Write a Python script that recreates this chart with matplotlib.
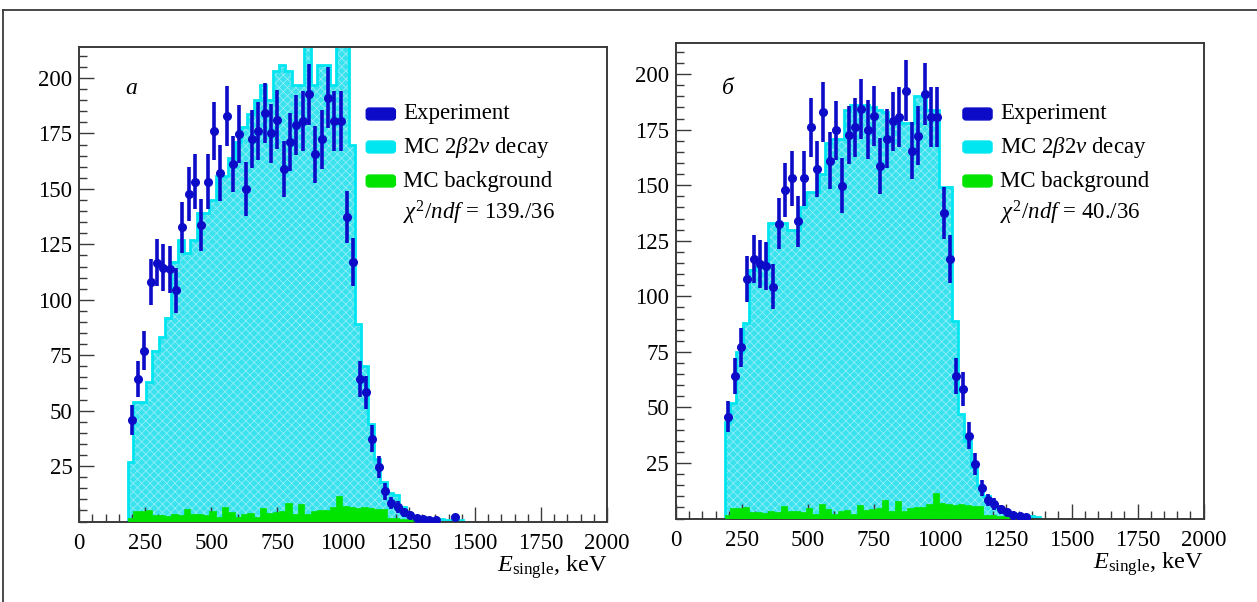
import numpy as np
import matplotlib
matplotlib.use('Agg')
import matplotlib.pyplot as plt
from matplotlib.patches import FancyBboxPatch
from matplotlib.lines import Line2D

plt.rcParams['font.family'] = ['Liberation Serif', 'DejaVu Serif']
plt.rcParams['mathtext.fontset'] = 'custom'
plt.rcParams['mathtext.rm'] = 'Liberation Serif'
plt.rcParams['mathtext.it'] = 'Liberation Serif:italic'
plt.rcParams['mathtext.bf'] = 'Liberation Serif:bold'
plt.rcParams['hatch.linewidth'] = 0.6

# ---- data ----
data_bin_start = 187.0   # keV, lower edge of first data bin
bin_width = 24.0         # keV
mc_first_edge = 186.0    # keV, MC histograms start
mc_second_edge = 205.0   # keV, then regular bins of bin_width

exp_counts = [45.9, 64.2, 77.0, 107.8, 116.8, 114.5, 113.7, 104.3, 132.7, 147.7,
              153.2, 133.7, 153.2, 176.1, 157.3, 182.8, 161.1, 174.7, 149.8, 172.5,
              176.1, 184.3, 175.0, 181.3, 158.8, 171.0, 178.8, 180.6, 192.6, 165.6,
              172.3, 191.1, 180.7, 180.7, 137.5, 116.9, 64.2, 58.2, 37.3, 24.4,
              13.6, 8.3, 6.5, 4.1, 2.8, 1.4, 1.0, 0.8, 0.6, 0.0, 0.0, 2.0]

mc_2b2n_a = [27, 54, 54, 63, 77, 83, 92, 117, 127, 121,
             127, 139, 139, 145, 156, 156, 164, 171, 178, 184,
             190, 197, 190, 203, 206, 203, 197, 197, 216, 197,
             206, 206, 197, 216, 216, 170, 89, 70, 44, 28,
             18, 13, 12, 6.5, 3.5, 2.5, 2.0, 1.5, 1.2, 1.0,
             0.8, 0.6, 0.5]

mc_2b2n_b = [43.5, 52, 75, 88, 112, 113, 113, 133, 133, 133,
             130, 130, 140, 147, 147, 155, 169, 171, 171, 184,
             186, 186, 186, 185, 184, 183, 180, 180, 178, 178,
             190, 190, 184, 184, 149, 149, 89, 47, 35, 23,
             15, 10, 7, 5, 3.5, 2.5, 2.0, 1.5, 1.0, 0.6]

mc_bkg = [1.5, 4.7, 4.7, 5.1, 3.0, 2.9, 2.5, 3.2, 2.9, 5.6,
          3.3, 3.3, 3.0, 4.6, 2.1, 6.6, 4.1, 2.1, 3.3, 3.9,
          2.1, 6.2, 3.9, 4.1, 4.9, 8.4, 3.6, 7.8, 3.6, 4.9,
          5.4, 5.4, 6.6, 11.7, 7.0, 6.6, 5.9, 6.5, 6.0, 5.6,
          5.6, 1.7, 1.7, 1.0, 1.0, 1.2, 1.2, 1.0]

n_exp_b = 48   # data bins shown in panel b

chi2_text = [r'$\chi^2/ndf$ = 139./36', r'$\chi^2/ndf$ = 40./36']
panel_letters = ['а', 'б']
legend_labels = ['Experiment', r'MC 2$\beta$2$\nu$ decay', 'MC background']
x_ticks = [0, 250, 500, 750, 1000, 1250, 1500, 1750, 2000]
y_ticks = [25, 50, 75, 100, 125, 150, 175, 200]

# ---- styles ----
W, H = 1257, 602
C_EXP = '#0c0cc8'
C_MC = '#00e6f0'
C_MC_FILL = '#38e2ee'
C_HATCH = '#92eef6'
C_BKG = '#00e400'
C_SPINE = '#3a3a3a'

fig = plt.figure(figsize=(W / 100, H / 100), dpi=100)

# axes boxes in pixels: (left, top, right, bottom)
boxes = [(79.3, 47, 607, 521.5), (676, 43, 1203.5, 518.5)]
axes = [fig.add_axes([l / W, 1 - b / H, (r - l) / W, (b - t) / H]) for l, t, r, b in boxes]


def mc_edges(n):
    return np.r_[mc_first_edge, mc_second_edge + bin_width * np.arange(n)]


panels = [
    (axes[0], boxes[0], mc_2b2n_a, exp_counts, chi2_text[0], panel_letters[0]),
    (axes[1], boxes[1], mc_2b2n_b, exp_counts[:n_exp_b], chi2_text[1], panel_letters[1]),
]

for ax, box, mc, ex, chi, letter in panels:
    l, t, r, b = box

    def fx(px):
        return (px - l) / (r - l)

    def fy(py):
        return 1 - (py - t) / (b - t)

    mc = np.asarray(mc, float)
    ex = np.asarray(ex, float)
    bk = np.asarray(mc_bkg, float)
    cen = data_bin_start + bin_width * (np.arange(len(ex)) + 0.5)

    ax.stairs(mc, mc_edges(len(mc)), fill=True, facecolor=C_MC_FILL, edgecolor=C_HATCH,
              hatch='xxxx', linewidth=0, zorder=1)
    ax.stairs(mc, mc_edges(len(mc)), fill=False, baseline=0, color=C_MC,
              linewidth=2.0, zorder=2)
    ax.stairs(bk, mc_edges(len(bk)), fill=True, facecolor=C_BKG, edgecolor=C_BKG,
              linewidth=0.5, zorder=3)

    m = ex > 0
    ax.errorbar(cen[m], ex[m], yerr=np.sqrt(ex[m]), fmt='o', color=C_EXP,
                ms=5.5, elinewidth=2.6, capsize=0, zorder=5)

    ax.set_xlim(0, 2000)
    ax.set_ylim(0, 214)
    ax.set_xticks(x_ticks)
    ax.set_xticks(np.arange(0, 2001, 50), minor=True)
    ax.set_yticks(y_ticks)
    ax.set_yticks(np.arange(0, 214, 5), minor=True)
    ax.tick_params(which='both', direction='in', top=False, right=False,
                   color=C_SPINE, labelsize=16.5, width=1.0)
    ax.tick_params(which='major', length=11)
    ax.tick_params(axis='x', which='major', pad=8)
    ax.tick_params(axis='y', which='major', pad=5)
    ax.tick_params(which='minor', length=6)
    for s in ax.spines.values():
        s.set_color(C_SPINE)
        s.set_linewidth(1.4)

    ax.text(fx(l + 46), fy(88), letter, transform=ax.transAxes, fontsize=17,
            style='italic', ha='left', va='center')

    # legend
    rows = [114, 147, 181]
    cols = [C_EXP, C_MC, C_BKG]
    p0 = l + 288
    for yy, cc, lab in zip(rows, cols, legend_labels):
        ax.add_patch(FancyBboxPatch((fx(p0), fy(yy + 5)), fx(p0 + 27) - fx(p0),
                                    fy(yy - 5) - fy(yy + 5),
                                    boxstyle='round,pad=0.002,rounding_size=0.006',
                                    transform=ax.transAxes, facecolor=cc,
                                    edgecolor=cc, zorder=6, clip_on=False))
        ax.text(fx(l + 324), fy(yy), lab, transform=ax.transAxes, fontsize=16.5,
                ha='left', va='center', zorder=6)
    ax.text(fx(l + 324), fy(213), chi, transform=ax.transAxes, fontsize=16.5,
            ha='left', va='center', zorder=6)

    fig.text(r / W, 1 - (b + 50) / H, r'$E_{\rm single}$, keV', fontsize=17.5,
             ha='right', va='baseline')

# outer frame
fig.add_artist(Line2D([3 / W, 3 / W], [0, 1 - 10 / H], transform=fig.transFigure,
                      color=C_SPINE, lw=1.3))
fig.add_artist(Line2D([3 / W, 1], [1 - 10 / H, 1 - 10 / H], transform=fig.transFigure,
                      color=C_SPINE, lw=1.3))

fig.savefig('out.png', dpi=100)
